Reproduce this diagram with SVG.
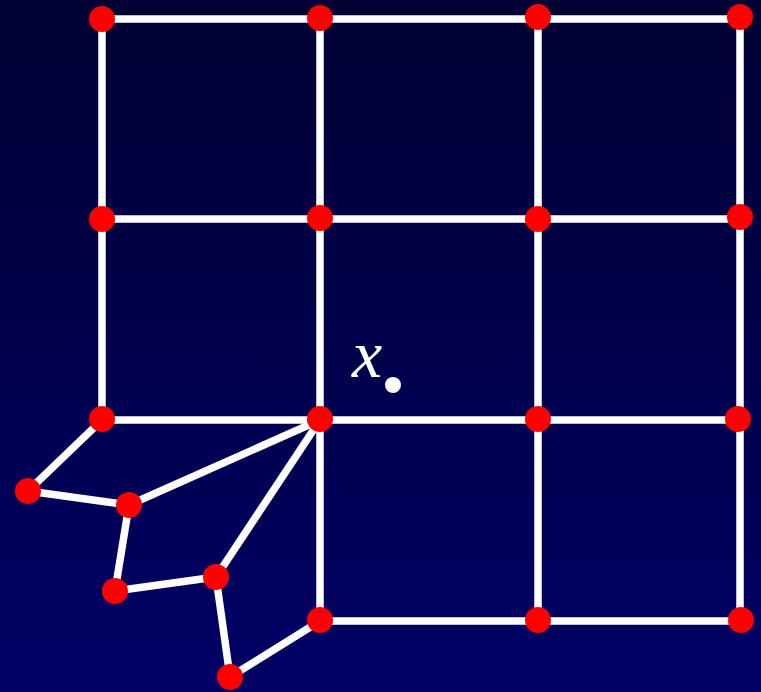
<svg xmlns="http://www.w3.org/2000/svg" width="761" height="692" viewBox="0 0 761 692">
<defs>
<linearGradient id="bg" x1="0" y1="0" x2="0" y2="1">
<stop offset="0" stop-color="#000033"/>
<stop offset="1" stop-color="#000066"/>
</linearGradient>
<style>
.e{stroke:#ffffff;stroke-width:7.5;fill:none}
.n{fill:#ff0000}
</style>
</defs>
<rect width="761" height="692" fill="url(#bg)"/>
<g id="connectors">
<line class="e" x1="102" y1="19" x2="740" y2="19"/>
<line class="e" x1="102" y1="219" x2="740" y2="219"/>
<line class="e" x1="102" y1="420" x2="738" y2="420"/>
<line class="e" x1="320" y1="621" x2="741" y2="621"/>
<line class="e" x1="102" y1="19" x2="102" y2="420"/>
<line class="e" x1="320" y1="18" x2="320" y2="621"/>
<line class="e" x1="538" y1="17" x2="538" y2="621"/>
<line class="e" x1="740" y1="17" x2="740" y2="621"/>
<line class="e" x1="102" y1="420" x2="28" y2="491"/>
<line class="e" x1="28" y1="491" x2="129" y2="505"/>
<line class="e" x1="129" y1="505" x2="320" y2="420"/>
<line class="e" x1="129" y1="505" x2="115" y2="591"/>
<line class="e" x1="115" y1="591" x2="216" y2="577"/>
<line class="e" x1="216" y1="577" x2="320" y2="420"/>
<line class="e" x1="216" y1="577" x2="230" y2="677"/>
<line class="e" x1="230" y1="677" x2="320" y2="621"/>
</g>
<g id="nodes">
<circle id="n1" class="n" cx="102" cy="19" r="13"/>
<circle id="n2" class="n" cx="320" cy="18" r="13"/>
<circle id="n3" class="n" cx="538" cy="17" r="13"/>
<circle id="n4" class="n" cx="740" cy="17" r="13"/>
<circle id="n5" class="n" cx="102" cy="219" r="13"/>
<circle id="n6" class="n" cx="320" cy="218" r="13"/>
<circle id="n7" class="n" cx="538" cy="219" r="13"/>
<circle id="n8" class="n" cx="740" cy="217" r="13"/>
<circle id="n9" class="n" cx="102" cy="419" r="13"/>
<circle id="n10" class="n" cx="320" cy="419" r="13"/>
<circle id="n11" class="n" cx="538" cy="419" r="13"/>
<circle id="n12" class="n" cx="738" cy="419" r="13"/>
<circle id="n13" class="n" cx="320" cy="620" r="13"/>
<circle id="n14" class="n" cx="538" cy="620" r="13"/>
<circle id="n15" class="n" cx="741" cy="620" r="13"/>
<circle id="n16" class="n" cx="28" cy="491" r="13"/>
<circle id="n17" class="n" cx="129" cy="505" r="13"/>
<circle id="n18" class="n" cx="115" cy="591" r="13"/>
<circle id="n19" class="n" cx="216" cy="577" r="13"/>
<circle id="n20" class="n" cx="230" cy="677" r="13"/>
</g>
<g id="point">
<text x="352" y="377" font-family="Liberation Serif, serif" font-style="italic" font-size="68" fill="#ffffff">x</text>
<circle cx="393" cy="385" r="8" fill="#ffffff"/>
</g>
</svg>
